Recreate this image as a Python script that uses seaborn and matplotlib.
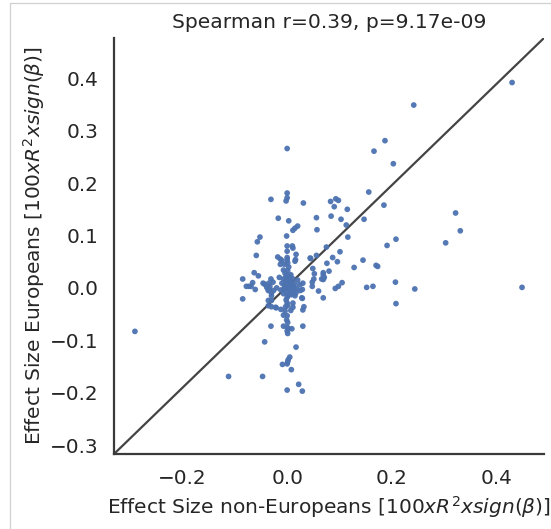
import numpy as np
import pandas as pd
import seaborn as sns
import matplotlib.pyplot as plt
from matplotlib.lines import Line2D

# Effect sizes (non-Europeans on x, Europeans on y)
x_noneur = [
    0.430, 0.242, 0.000, 0.187, 0.166, 0.203, 0.156, 0.185, 0.000, 0.000,
    -0.002, -0.031, 0.031, 0.083, 0.090, 0.093, 0.098, 0.115, 0.322, 0.331,
    0.303, 0.449, 0.208, 0.191, 0.147, 0.113, 0.116, 0.103, 0.084, 0.056,
    0.057, -0.017, 0.003, 0.011, 0.015, 0.020, -0.052, -0.057, -0.001, -0.059,
    0.000, 0.010, 0.011, 0.000, 0.017, 0.075, 0.101, 0.056, 0.045, 0.087,
    0.096, 0.145, 0.173, 0.170, 0.128, 0.080, 0.069, 0.069, 0.051, 0.048,
    0.048, 0.060, 0.105, 0.098, 0.092, 0.152, 0.164, 0.207, 0.244, 0.208,
    0.069, 0.028, 0.032, 0.030, 0.009, 0.007, -0.012, -0.021, -0.030, -0.036,
    0.000, 0.001, 0.000, 0.001, 0.000, 0.000, 0.001, -0.031, -0.043, 0.017,
    0.005, 0.002, 0.001, -0.009, 0.000, 0.008, -0.112, -0.047, 0.022, 0.000,
    0.029, -0.291, -0.085, -0.085, -0.078, -0.073, -0.069, -0.063, -0.055, -0.061,
    -0.066, -0.046, -0.043, -0.031, -0.034, -0.030, -0.030, -0.036, -0.030, -0.036,
    -0.018, -0.013, -0.010, 0.000, 0.016, 0.015, -0.013, 0.000, 0.001, 0.044,
    0.049, 0.052, 0.076, 0.071, 0.066, 0.069, -0.027, -0.035, -0.033, -0.039,
    -0.036, -0.026, -0.007, -0.004, 0.001, -0.002, -0.007, 0.001, 0.006, -0.010,
    -0.004, 0.002, 0.008, 0.012, 0.004, -0.002, -0.007, -0.012, 0.006, 0.013,
    0.018, -0.001, -0.007, 0.008, 0.002, 0.011, 0.017, 0.024, 0.025, 0.030,
    0.029, -0.002, -0.003, -0.004, -0.007, -0.001, -0.007, 0.003, -0.022, 0.011,
    0.011, 0.029, 0.030, 0.005, 0.003, -0.005, 0.007, 0.010, -0.015, 0.020,
    -0.020, 0.015, 0.000, 0.004, 0.009, -0.003, 0.014, 0.006, 0.002, -0.005,
]
y_eur = [
    0.392, 0.349, 0.266, 0.281, 0.261, 0.237, 0.183, 0.158, 0.181, 0.172,
    0.166, 0.169, 0.162, 0.165, 0.155, 0.170, 0.167, 0.150, 0.143, 0.109,
    0.086, 0.001, 0.093, 0.081, 0.131, 0.120, 0.097, 0.131, 0.137, 0.134,
    0.111, 0.133, 0.128, 0.110, 0.114, 0.118, 0.097, 0.088, 0.099, 0.062,
    0.080, 0.080, 0.076, 0.070, 0.064, 0.078, 0.069, 0.062, 0.056, 0.058,
    0.050, 0.053, 0.041, 0.043, 0.039, 0.032, 0.025, 0.016, 0.017, 0.011,
    0.003, -0.006, 0.010, 0.003, -0.001, 0.001, 0.003, 0.011, -0.002, -0.030,
    -0.019, -0.019, -0.036, -0.073, -0.078, -0.043, -0.041, -0.038, -0.036, -0.034,
    -0.029, -0.034, -0.053, -0.066, -0.075, -0.082, -0.087, -0.073, -0.103, -0.113,
    -0.132, -0.137, -0.141, -0.146, -0.145, -0.156, -0.169, -0.169, -0.184, -0.195,
    -0.197, -0.083, 0.017, -0.021, 0.003, 0.003, 0.003, 0.029, 0.023, -0.003,
    0.010, 0.009, 0.007, 0.017, -0.003, -0.010, -0.015, -0.024, -0.024, -0.003,
    0.059, 0.055, 0.052, 0.054, 0.054, 0.051, 0.045, 0.058, 0.048, 0.057,
    0.037, 0.027, 0.047, 0.020, 0.017, 0.029, 0.011, 0.009, 0.003, 0.001,
    -0.005, -0.005, 0.034, 0.028, 0.033, 0.022, 0.017, 0.015, 0.011, 0.009,
    0.006, 0.005, 0.006, 0.003, 0.000, -0.001, -0.003, -0.004, -0.006, -0.004,
    -0.001, -0.008, -0.011, -0.013, -0.014, -0.010, -0.009, 0.006, -0.005, 0.009,
    -0.003, -0.023, -0.036, -0.044, -0.052, -0.061, -0.073, -0.078, -0.037, -0.029,
    -0.037, -0.020, -0.042, 0.020, 0.040, 0.045, 0.025, 0.018, 0.020, 0.015,
    0.000, -0.015, -0.018, 0.002, 0.004, 0.012, 0.008, -0.002, 0.024, 0.003,
]

title_text = "Spearman r=0.39, p=9.17e-09"
xlabel_text = r"Effect Size non-Europeans [$100xR^2xsign(\beta)$]"
ylabel_text = r"Effect Size Europeans [$100xR^2xsign(\beta)$]"
xticks = [-0.2, 0.0, 0.2, 0.4]
yticks = [-0.3, -0.2, -0.1, 0.0, 0.1, 0.2, 0.3, 0.4]

df = pd.DataFrame({"noneur": x_noneur, "eur": y_eur})

sns.set_theme(style="white")
plt.rcParams["font.family"] = ["DejaVu Sans"]

fig = plt.figure(figsize=(5.51, 5.29), dpi=100)
ax = fig.add_axes([0.2069, 0.1418, 0.7804, 0.7864])

sns.scatterplot(data=df, x="noneur", y="eur", ax=ax, s=17, color="#4c72b0",
                edgecolor="none", linewidth=0, alpha=0.95, zorder=3)

ax.set_xlim(-0.331, 0.491)
ax.set_ylim(-0.317, 0.477)
# diagonal reference line (corner to corner of the axes)
ax.plot([0, 1], [0, 1], transform=ax.transAxes, color="#444444",
        linewidth=1.6, zorder=2)

ax.set_xticks(xticks)
ax.set_yticks(yticks)
ax.tick_params(labelsize=14.4, colors="#262626", length=0, pad=11)
ax.set_xlabel(xlabel_text, fontsize=14.5, color="#262626", labelpad=4)
ax.set_ylabel(ylabel_text, fontsize=14.5, color="#262626", labelpad=2)
ax.set_title(title_text, fontsize=14.6, color="#262626", pad=7)

sns.despine(ax=ax)
for sp in ["left", "bottom"]:
    ax.spines[sp].set_color("#3a3a3a")
    ax.spines[sp].set_linewidth(1.6)

# faint frame around the figure (left and top edges)
fig.add_artist(Line2D([9.5 / 551, 9.5 / 551], [0, 1 - 2.5 / 529],
                      transform=fig.transFigure, color="#d0d0d0", lw=0.9))
fig.add_artist(Line2D([9.5 / 551, 1], [1 - 2.5 / 529, 1 - 2.5 / 529],
                      transform=fig.transFigure, color="#d0d0d0", lw=0.9))

fig.savefig("out.png", dpi=100)
